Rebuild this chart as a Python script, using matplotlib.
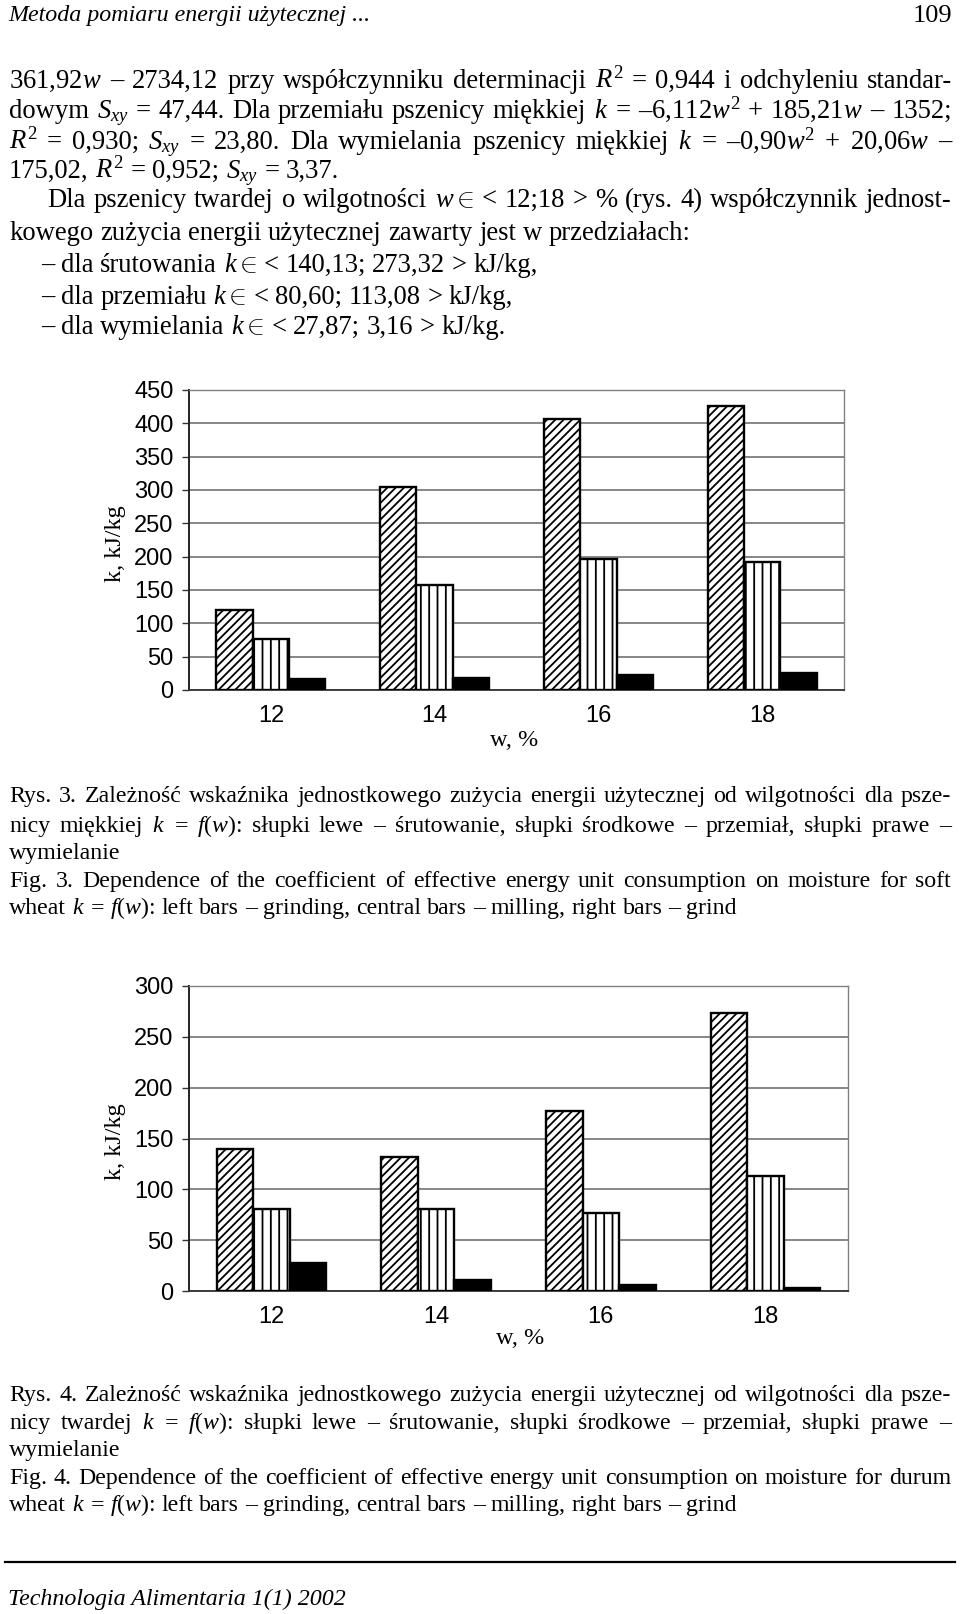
import matplotlib
matplotlib.use('Agg')
import matplotlib.pyplot as plt
from matplotlib.lines import Line2D
import numpy as np

W, H = 960, 1614
plt.rcParams['font.family'] = ['Liberation Serif', 'DejaVu Serif']
plt.rcParams['mathtext.fontset'] = 'custom'
plt.rcParams['mathtext.rm'] = 'Liberation Serif'
plt.rcParams['mathtext.it'] = 'Liberation Serif:italic'
plt.rcParams['mathtext.bf'] = 'Liberation Serif:bold'
plt.rcParams['hatch.linewidth'] = 1.3

# ---------------- data ----------------
moisture = ['12', '14', '16', '18']
soft_grinding = [120, 305, 406, 426]
soft_milling = [76, 157, 196, 192]
soft_grind = [17, 18, 23, 26]
durum_grinding = [140.13, 132, 177, 273.32]
durum_milling = [80.60, 80.6, 77, 113.08]
durum_grind = [27.87, 10.5, 5.5, 3.16]
soft_yticks = [0, 50, 100, 150, 200, 250, 300, 350, 400, 450]
durum_yticks = [0, 50, 100, 150, 200, 250, 300]
y_label = 'k, kJ/kg'
x_label = 'w, %'

header_left = 'Metoda pomiaru energii użytecznej ...'
header_right = '109'
body_lines = [
    '361,92$w$ – 2734,12 przy współczynniku determinacji $R^2$ = 0,944 i odchyleniu standar-',
    'dowym $S_{xy}$ = 47,44. Dla przemiału pszenicy miękkiej $k$ = –6,112$w^2$ + 185,21$w$ – 1352;',
    '$R^2$ = 0,930; $S_{xy}$ = 23,80. Dla wymielania pszenicy miękkiej $k$ = –0,90$w^2$ + 20,06$w$ –',
    '175,02, $R^2$ = 0,952; $S_{xy}$ = 3,37.',
    'Dla pszenicy twardej o wilgotności $w\\in$ < 12;18 > % (rys. 4) współczynnik jednost-',
    'kowego zużycia energii użytecznej zawarty jest w przedziałach:',
    '– dla śrutowania $k\\in$ < 140,13; 273,32 > kJ/kg,',
    '– dla przemiału $k\\in$ < 80,60; 113,08 > kJ/kg,',
    '– dla wymielania $k\\in$ < 27,87; 3,16 > kJ/kg.',
]
caption3 = [
    'Rys. 3. Zależność wskaźnika jednostkowego zużycia energii użytecznej od wilgotności dla psze-',
    'nicy miękkiej $k$ = $f$($w$): słupki lewe – śrutowanie, słupki środkowe – przemiał, słupki prawe –',
    'wymielanie',
    'Fig. 3. Dependence of the coefficient of effective energy unit consumption on moisture for soft',
    'wheat $k$ = $f$($w$): left bars – grinding, central bars – milling, right bars – grind',
]
caption4 = [
    'Rys. 4. Zależność wskaźnika jednostkowego zużycia energii użytecznej od wilgotności dla psze-',
    'nicy twardej $k$ = $f$($w$): słupki lewe – śrutowanie, słupki środkowe – przemiał, słupki prawe –',
    'wymielanie',
    'Fig. 4. Dependence of the coefficient of effective energy unit consumption on moisture for durum',
    'wheat $k$ = $f$($w$): left bars – grinding, central bars – milling, right bars – grind',
]
footer = 'Technologia Alimentaria 1(1) 2002'

# ---------------- figure ----------------
fig = plt.figure(figsize=(9.6, 16.14), dpi=100)
renderer = fig.canvas.get_renderer()


def fx(x):
    return x / W


def fy(y):
    return 1 - y / H


def put_line(text, y, x0=9, x1=952, size=18.5, justify=False, style='normal'):
    words = text.split(' ')
    arts = [fig.text(fx(x0), fy(y), w, fontsize=size, style=style,
                     va='baseline', ha='left') for w in words]
    widths = [a.get_window_extent(renderer).width for a in arts]
    if justify and len(words) > 1:
        gap = (x1 - x0 - sum(widths)) / (len(words) - 1)
    else:
        gap = size * 100 / 72 * 0.25
    x = x0
    for a, wd in zip(arts, widths):
        a.set_x(fx(x))
        x += wd + gap


# header
fig.text(fx(8), fy(21), header_left, fontsize=17.3, style='italic', va='baseline', ha='left')
fig.text(fx(952), fy(22), header_right, fontsize=19, va='baseline', ha='right')

# body
body_y = [80, 110, 141, 170, 199, 232, 264, 296, 326]
body_x0 = [9, 9, 9, 9, 47, 9, 41, 41, 41]
body_just = [True, True, True, False, True, False, False, False, False]
for t, yy, x0, j in zip(body_lines, body_y, body_x0, body_just):
    put_line(t, yy + 8, x0=x0, justify=j, size=19.2)

cap_just = [True, True, False, True, False]
for t, yy, j in zip(caption3, [795, 825, 852, 880, 907], cap_just):
    put_line(t, yy + 7, x0=9, x1=951, justify=j, size=17.2)
for t, yy, j in zip(caption4, [1394, 1422, 1449, 1477, 1504], cap_just):
    put_line(t, yy + 7, x0=9, x1=951, justify=j, size=17.2)

# footer
fig.add_artist(Line2D([fx(5), fx(955)], [fy(1562), fy(1562)], color='black', lw=1.6))
fig.text(fx(8), fy(1605), footer, fontsize=17.3, style='italic', va='baseline', ha='left')


def bar_chart(rect, grinding, milling, grind, yticks, ylab_xy, xlab_xy):
    left, top, right, bottom = rect
    ax = fig.add_axes([fx(left), fy(bottom), (right - left) / W, (bottom - top) / H])
    x = np.arange(len(moisture))
    bw = 0.222
    ax.bar(x - bw, grinding, bw, facecolor='white', edgecolor='black',
           hatch='////', linewidth=1.7, zorder=3)
    ax.bar(x, milling, bw, facecolor='white', edgecolor='black',
           hatch='||', linewidth=1.7, zorder=3)
    ax.bar(x + bw, grind, bw, facecolor='black', edgecolor='black',
           linewidth=1.7, zorder=3)
    ax.set_xlim(-0.5, len(moisture) - 0.5)
    ax.set_ylim(yticks[0], yticks[-1])
    ax.set_yticks(yticks)
    ax.set_xticks(x)
    ax.set_xticklabels(moisture)
    ax.yaxis.grid(True, color='#666666', lw=1.1)
    ax.set_axisbelow(True)
    ax.tick_params(axis='y', length=5, width=1, pad=6, labelsize=17, color='#333333')
    ax.tick_params(axis='x', length=0, pad=11, labelsize=17)
    for lab in ax.get_yticklabels() + ax.get_xticklabels():
        lab.set_fontfamily(['Liberation Sans', 'DejaVu Sans'])
    ax.spines['left'].set_color('#222222')
    ax.spines['left'].set_linewidth(1.4)
    ax.spines['bottom'].set_color('#333333')
    ax.spines['bottom'].set_linewidth(1.3)
    for s in ['top', 'right']:
        ax.spines[s].set_color('#808080')
        ax.spines[s].set_linewidth(1.0)
    fig.text(fx(ylab_xy[0]), fy(ylab_xy[1]), y_label, fontsize=17.5, rotation=90,
             ha='center', va='center')
    fig.text(fx(xlab_xy[0]), fy(xlab_xy[1]), x_label, fontsize=17.5,
             ha='center', va='center')
    return ax


bar_chart((189, 390, 844, 690), soft_grinding, soft_milling, soft_grind,
          soft_yticks, (116, 544), (514, 741))
bar_chart((189, 986, 848, 1291), durum_grinding, durum_milling, durum_grind,
          durum_yticks, (116, 1142), (520, 1338))

fig.savefig('out.png', dpi=100, facecolor='white')
